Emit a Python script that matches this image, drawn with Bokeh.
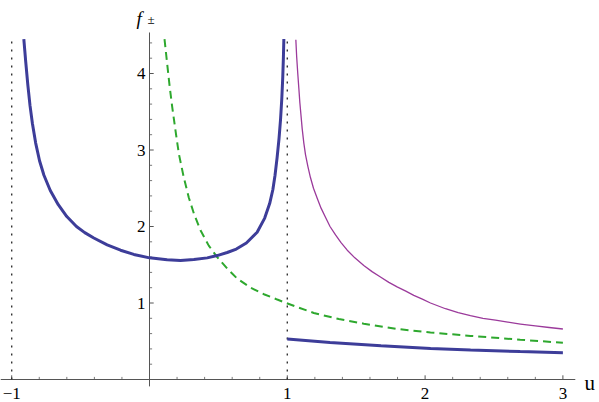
import numpy as np
from bokeh.plotting import figure
from bokeh.models import Range1d
from bokeh.core.properties import value
from bokeh.embed import file_html
from bokeh.resources import INLINE

# ---- data ----
blue_u = [-0.912, -0.905, -0.898, -0.883, -0.867, -0.850, -0.826, -0.798, -0.766, -0.720,
          -0.662, -0.600, -0.530, -0.470, -0.404, -0.307, -0.210, -0.114, 0.0, 0.128,
          0.225, 0.322, 0.419, 0.491, 0.564, 0.630, 0.703, 0.781, 0.836, 0.872, 0.895,
          0.911, 0.926, 0.940, 0.951, 0.960, 0.967, 0.9715, 0.975]
blue_f = [4.45, 4.30, 4.15, 3.85, 3.58, 3.35, 3.09, 2.86, 2.67, 2.47,
          2.285, 2.13, 2.00, 1.92, 1.85, 1.76, 1.69, 1.635, 1.59, 1.565,
          1.556, 1.569, 1.59, 1.62, 1.66, 1.705, 1.785, 1.925, 2.11, 2.30, 2.48,
          2.67, 2.90, 3.15, 3.40, 3.67, 3.95, 4.20, 4.45]

blue2_u = [1.0, 1.31, 1.68, 2.04, 2.33, 2.69, 3.0]
blue2_f = [0.53, 0.485, 0.44, 0.405, 0.385, 0.365, 0.35]

green_u = [0.109, 0.128, 0.147, 0.165, 0.189, 0.213, 0.249, 0.285, 0.322, 0.370, 0.430,
           0.491, 0.564, 0.636, 0.733, 0.830, 0.927, 0.963, 1.072, 1.192, 1.374, 1.555,
           1.797, 2.039, 2.33, 2.69, 3.0]
green_f = [4.45, 4.13, 3.82, 3.56, 3.25, 2.95, 2.64, 2.38, 2.17, 1.95, 1.75,
           1.60, 1.45, 1.32, 1.20, 1.115, 1.045, 1.02, 0.947, 0.87, 0.79, 0.73,
           0.66, 0.615, 0.57, 0.52, 0.48]

purple_u = [1.062, 1.068, 1.076, 1.084, 1.091, 1.108, 1.120, 1.132, 1.150, 1.168, 1.190,
            1.217, 1.245, 1.277, 1.310, 1.350, 1.390, 1.435, 1.490, 1.555, 1.615,
            1.676, 1.737, 1.797, 1.860, 1.918, 1.980, 2.039, 2.148, 2.240, 2.329,
            2.420, 2.511, 2.600, 2.692, 2.800, 2.900, 3.0]
purple_f = [4.44, 4.22, 4.00, 3.80, 3.62, 3.28, 3.09, 2.94, 2.78, 2.64, 2.50,
            2.37, 2.24, 2.12, 2.00, 1.89, 1.79, 1.69, 1.59, 1.49, 1.41,
            1.34, 1.27, 1.21, 1.155, 1.10, 1.05, 1.00, 0.925, 0.875, 0.835,
            0.80, 0.775, 0.75, 0.725, 0.70, 0.68, 0.66]

asymptotes = [-1, 1]
asym_top = 4.42

x_major = [-1, 1, 2, 3]
x_labels = ["\u22121", "1", "2", "3"]
y_major = [1, 2, 3, 4]
y_labels = ["1", "2", "3", "4"]

# ---- layout (pixel scales) ----
W, H = 599, 402
sx, sy = 137.8, 76.5          # px per unit
ox, oy = 149.0, 379.0         # origin inside the figure, px
x0, x1 = -ox / sx, (W - ox) / sx
y0, y1 = -(H - oy) / sy, oy / sy

p = figure(width=W, height=H, output_backend="svg", toolbar_location=None,
           x_range=Range1d(x0, x1), y_range=Range1d(y0, y1),
           min_border=0, x_axis_type=None, y_axis_type=None)
p.grid.visible = False
p.outline_line_color = None
p.background_fill_color = "white"
p.border_fill_color = "white"

axis_col = "#555555"
font = value("Liberation Serif")

# axes
x_axis_end = 3.09
y_axis_top = 4.536
p.segment(x0=[x0, 0], y0=[0, -0.09], x1=[x_axis_end, 0], y1=[0, y_axis_top],
          line_color=axis_col, line_width=1)

# x ticks (pointing up)
xt_minor = [t for t in np.round(np.arange(-1.0, 3.0001, 0.2), 3) if abs(t) > 1e-9 and t not in x_major]
maj_len_y, min_len_y = 4.2 / sy, 2.6 / sy
p.segment(x0=x_major, y0=[0] * len(x_major), x1=x_major, y1=[maj_len_y] * len(x_major),
          line_color=axis_col, line_width=1)
p.segment(x0=xt_minor, y0=[0] * len(xt_minor), x1=xt_minor, y1=[min_len_y] * len(xt_minor),
          line_color=axis_col, line_width=0.8)

# y ticks (pointing right)
yt_minor = [t for t in np.round(np.arange(0.2, 4.5, 0.2), 3) if t not in y_major]
maj_len_x, min_len_x = 4.2 / sx, 2.6 / sx
p.segment(x0=[0] * len(y_major), y0=y_major, x1=[maj_len_x] * len(y_major), y1=y_major,
          line_color=axis_col, line_width=1)
p.segment(x0=[0] * len(yt_minor), y0=yt_minor, x1=[min_len_x] * len(yt_minor), y1=yt_minor,
          line_color=axis_col, line_width=0.8)

# asymptotes (dotted)
for a in asymptotes:
    p.line([a, a], [0, asym_top], line_color="#333333", line_width=1.4, line_dash="2 6")

# curves
p.line(purple_u, purple_f, line_color="#9b3a9b", line_width=1.3, line_join="round")
p.line(green_u, green_f, line_color="#2ea82e", line_width=2, line_dash="8 5")
p.line(blue_u, blue_f, line_color="#3d3d99", line_width=3, line_join="round")
p.line(blue2_u, blue2_f, line_color="#3d3d99", line_width=3)

# tick labels
p.text(x=x_major, y=[-14 / sy] * len(x_major), text=x_labels, text_font=font,
       text_font_size="17px", text_align="center", text_baseline="alphabetic",
       text_color="black")
p.text(x=[-4 / sx] * len(y_major), y=y_major, text=y_labels, text_font=font,
       text_font_size="17px", text_align="right", text_baseline="middle",
       text_color="black")

# axis labels
p.text(x=[(584 - 149) / sx], y=[(379 - 382) / sy], text=["u"], text_font=font,
       text_font_size="21px", text_align="left", text_baseline="alphabetic",
       text_color="black")
p.text(x=[(136 - 149) / sx], y=[(379 - 18) / sy], text=["f"], text_font=font,
       text_font_size="19px", text_font_style="italic", text_align="left",
       text_baseline="alphabetic", text_color="black")
p.text(x=[(147 - 149) / sx], y=[(379 - 19) / sy], text=["\u00b1"], text_font=font,
       text_font_size="13px", text_align="left", text_baseline="alphabetic",
       text_color="black")

open("out.html", "w").write(file_html(p, INLINE))
